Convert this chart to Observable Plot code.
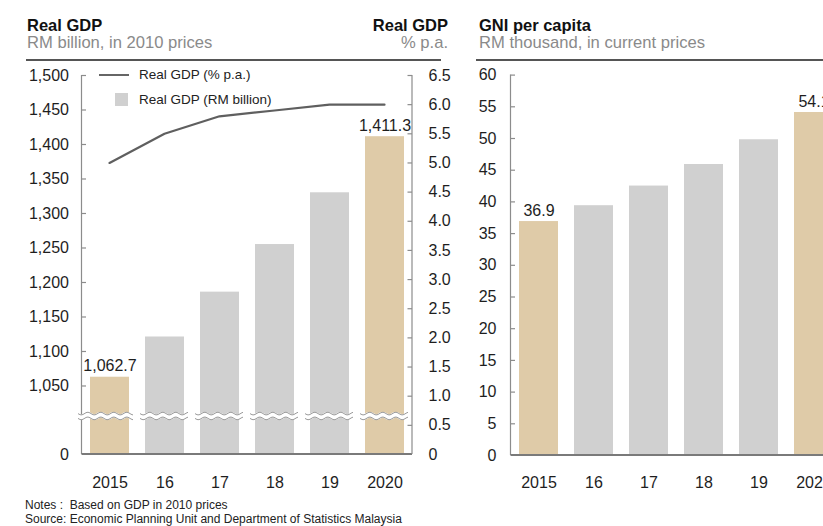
<!DOCTYPE html>
<html><head><meta charset="utf-8">
<script src="https://cdn.jsdelivr.net/npm/d3@7"></script>
<script src="https://cdn.jsdelivr.net/npm/@observablehq/plot@0.6"></script>
<style>
html,body{margin:0;padding:0;background:#fff;}
body{width:823px;height:526px;overflow:hidden;position:relative;font-family:"Liberation Sans",Arial,Helvetica,sans-serif;}
.abs{position:absolute;white-space:nowrap;}
.title{font-weight:bold;font-size:16.5px;line-height:16px;color:#111;}
.sub{font-size:16.6px;line-height:16px;color:#8a8a8a;}
.rule{position:absolute;height:1.5px;background:#555;top:59px;}
.leg{font-size:13.5px;line-height:14px;color:#222;}
.note{font-size:12px;line-height:13.5px;color:#222;}
#left,#over,#right{position:absolute;top:60px;height:440px;}
#left,#over{left:0;width:460px;}
#right{left:460px;width:400px;}
#left svg,#over svg,#right svg{max-width:none !important;}
</style></head><body>
<div class="abs title" style="left:27px;top:17px;">Real GDP</div>
<div class="abs sub" style="left:27px;top:35px;">RM billion, in 2010 prices</div>
<div class="abs title" style="right:375px;top:17px;text-align:right;">Real GDP</div>
<div class="abs sub" style="right:375px;top:35px;text-align:right;">% p.a.</div>
<div class="rule" style="left:26px;width:415px;"></div>
<div class="abs title" style="left:479px;top:17px;">GNI per capita</div>
<div class="abs sub" style="left:479px;top:35px;">RM thousand, in current prices</div>
<div class="rule" style="left:476px;width:347px;"></div>
<div id="left"></div>
<div id="over"></div>
<div id="right"></div>
<div class="abs" style="left:99px;top:73.5px;width:30px;height:2.2px;background:#666;"></div>
<div class="abs leg" style="left:139px;top:67.6px;">Real GDP (% p.a.)</div>
<div class="abs" style="left:115px;top:93px;width:13px;height:13px;background:#d0d0d0;"></div>
<div class="abs leg" style="left:139px;top:92.6px;">Real GDP (RM billion)</div>
<div class="abs note" style="left:25px;top:499px;">Notes :&nbsp; Based on GDP in 2010 prices</div>
<div class="abs note" style="left:25px;top:512.5px;">Source: Economic Planning Unit and Department of Statistics Malaysia</div>
<script>
// ---- data ----
const years = ["2015", "16", "17", "18", "19", "2020"];
const gdpBillion = [1062.7, 1121, 1186, 1255, 1330, 1411.3];
const gdpGrowth = [5.0, 5.5, 5.8, 5.9, 6.0, 6.0];
const gniPerCapita = [36.9, 39.4, 42.5, 45.9, 49.8, 54.1];
const highlighted = ["2015", "2020"];
const gdpTicks = [0, 1050, 1100, 1150, 1200, 1250, 1300, 1350, 1400, 1450, 1500];
const growthTicks = [0, 0.5, 1.0, 1.5, 2.0, 2.5, 3.0, 3.5, 4.0, 4.5, 5.0, 5.5, 6.0, 6.5];
const gniTicks = [0, 5, 10, 15, 20, 25, 30, 35, 40, 45, 50, 55, 60];

const TAN = "#dfcba8", GREY = "#d0d0d0", AXIS = "#8c8c8c", TXT = "#1e1e1e";
const gdp = years.map((y, i) => ({year: y, value: gdpBillion[i], growth: gdpGrowth[i], hi: highlighted.includes(y)}));
const gni = years.map((y, i) => ({year: y, value: gniPerCapita[i], hi: highlighted.includes(y)}));

// broken axis: 0..1000 is compressed into a short stub below the break
const BREAK_AT = 1000, STUB = 49.3;
const brk = v => v <= BREAK_AT ? v / BREAK_AT * STUB : STUB + (v - BREAK_AT);

const W = 460, H = 440, ML = 81.5, MR = 48;
const xBand = {domain: years, paddingInner: 0.3, paddingOuter: 0.15, axis: null};
const fmtGdp = d3.format(",");
const fmtGrowth = d => d === 0 ? "0" : d.toFixed(1);
const svgStyle = {background: "transparent", fontFamily: "'Liberation Sans', Arial, sans-serif", fontSize: "16px", overflow: "visible", maxWidth: "none"};

function frameLines(topVal, extendBaseline, tf = v => v) {
  return (index, scales, values, dims) => {
    const g = d3.create("svg:g");
    const xl = dims.marginLeft, xr = extendBaseline ? dims.width : dims.width - dims.marginRight;
    g.append("line").attr("x1", xl).attr("x2", xl).attr("y1", scales.y(tf(topVal))).attr("y2", scales.y(tf(0)))
      .attr("stroke", AXIS).attr("stroke-width", 1.2);
    g.append("line").attr("x1", xl).attr("x2", xr).attr("y1", scales.y(tf(0))).attr("y2", scales.y(tf(0)))
      .attr("stroke", "#7a7a7a").attr("stroke-width", 2.2);
    return g.node();
  };
}

function wave(x0, x1, yc) {
  let p = "";
  for (let x = x0; x <= x1 + 0.01; x += 1) {
    const y = yc + 1.3 * Math.sin((x - x0) / 13 * 2 * Math.PI);
    p += (p ? "L" : "M") + x.toFixed(1) + "," + y.toFixed(2);
  }
  return p;
}

const breaks = (index, scales, values, dims) => {
  const g = d3.create("svg:g");
  const bw = scales.x.bandwidth ? scales.x.bandwidth() : 38.5;
  const yc = scales.y(brk(BREAK_AT)) - 4;
  years.forEach((yr, i) => {
    const bx = scales.x(yr);
    const x0 = i === 0 ? dims.marginLeft - 3.5 : bx - 5;
    const x1 = bx + bw + 4;
    g.append("path").attr("d", wave(x0, x1, yc)).attr("fill", "none").attr("stroke", "#fff").attr("stroke-width", 5.5);
    g.append("path").attr("d", wave(x0, x1, yc - 2.4)).attr("fill", "none").attr("stroke", "#9a9a9a").attr("stroke-width", 1);
    g.append("path").attr("d", wave(x0, x1, yc + 2.4)).attr("fill", "none").attr("stroke", "#9a9a9a").attr("stroke-width", 1);
  });
  return g.node();
};

// ---- left: Real GDP (RM billion), broken axis ----
const leftPlot = Plot.plot({
  width: W, height: H, marginLeft: ML, marginRight: MR, marginTop: 0, marginBottom: 0,
  style: svgStyle,
  x: xBand,
  y: {domain: [0, brk(1500)], range: [394, 15], axis: null},
  marks: [
    Plot.barY(gdp, {filter: d => d.hi, x: "year", y1: () => 0, y2: d => brk(d.value), fill: TAN}),
    Plot.barY(gdp, {filter: d => !d.hi, x: "year", y1: () => 0, y2: d => brk(d.value), fill: GREY}),
    frameLines(1500, false, brk),
    breaks,
    Plot.tickY(gdpTicks.filter(d => d > 0), {y: d => brk(d), stroke: AXIS, strokeWidth: 1.2, insetRight: W - ML - MR - 4.5}),
    Plot.text(gdpTicks, {y: d => brk(d), frameAnchor: "left", textAnchor: "end", dx: -13, text: d => fmtGdp(d), fill: TXT, fontSize: 16}),
    Plot.text(gdp, {filter: d => d.hi, x: "year", y: d => brk(d.value), text: d => fmtGdp(d.value), dy: -11, fill: TXT, fontSize: 16}),
    Plot.text(gdp, {x: "year", y: () => 0, text: "year", dy: 28, fill: TXT, fontSize: 16})
  ]
});
document.getElementById("left").appendChild(leftPlot);

// ---- overlay: Real GDP growth (% p.a.), right axis ----
const overPlot = Plot.plot({
  width: W, height: H, marginLeft: ML, marginRight: MR, marginTop: 0, marginBottom: 0,
  style: svgStyle,
  x: xBand,
  y: {domain: [0, 6.5], range: [394, 15], axis: null},
  marks: [
    (index, scales, values, dims) => {
      const xr = dims.width - dims.marginRight;
      const l = d3.create("svg:line").attr("x1", xr).attr("x2", xr).attr("y1", scales.y(6.5)).attr("y2", scales.y(0))
        .attr("stroke", AXIS).attr("stroke-width", 1.2);
      return l.node();
    },
    Plot.tickY(growthTicks.filter(d => d > 0), {y: d => d, stroke: AXIS, strokeWidth: 1.2, insetLeft: W - ML - MR - 4.5}),
    Plot.text(growthTicks, {y: d => d, frameAnchor: "right", textAnchor: "start", dx: 16, text: d => fmtGrowth(d), fill: TXT, fontSize: 16}),
    Plot.line(gdp, {x: "year", y: "growth", stroke: "#5f5f5f", strokeWidth: 2.2})
  ]
});
document.getElementById("over").appendChild(overPlot);

// ---- right: GNI per capita ----
const RW = 400, RML = 50.5, RMR = 19.5;
const rightPlot = Plot.plot({
  width: RW, height: H, marginLeft: RML, marginRight: RMR, marginTop: 0, marginBottom: 0,
  style: svgStyle,
  x: xBand,
  y: {domain: [0, 60], range: [395, 14.6], axis: null},
  marks: [
    Plot.barY(gni, {filter: d => d.hi, x: "year", y: "value", fill: TAN}),
    Plot.barY(gni, {filter: d => !d.hi, x: "year", y: "value", fill: GREY}),
    frameLines(60, true),
    Plot.tickY(gniTicks.filter(d => d > 0), {y: d => d, stroke: AXIS, strokeWidth: 1.2, insetRight: RW - RML - RMR - 4.5}),
    Plot.text(gniTicks, {y: d => d, frameAnchor: "left", textAnchor: "end", dx: -14.5, text: d => String(d), fill: TXT, fontSize: 16}),
    Plot.text(gni, {filter: d => d.hi, x: "year", y: "value", text: d => d.value.toFixed(1), dy: -11, fill: TXT, fontSize: 16}),
    Plot.text(gni, {x: "year", y: () => 0, text: "year", dy: 27, fill: TXT, fontSize: 16})
  ]
});
document.getElementById("right").appendChild(rightPlot);
</script>
</body></html>
